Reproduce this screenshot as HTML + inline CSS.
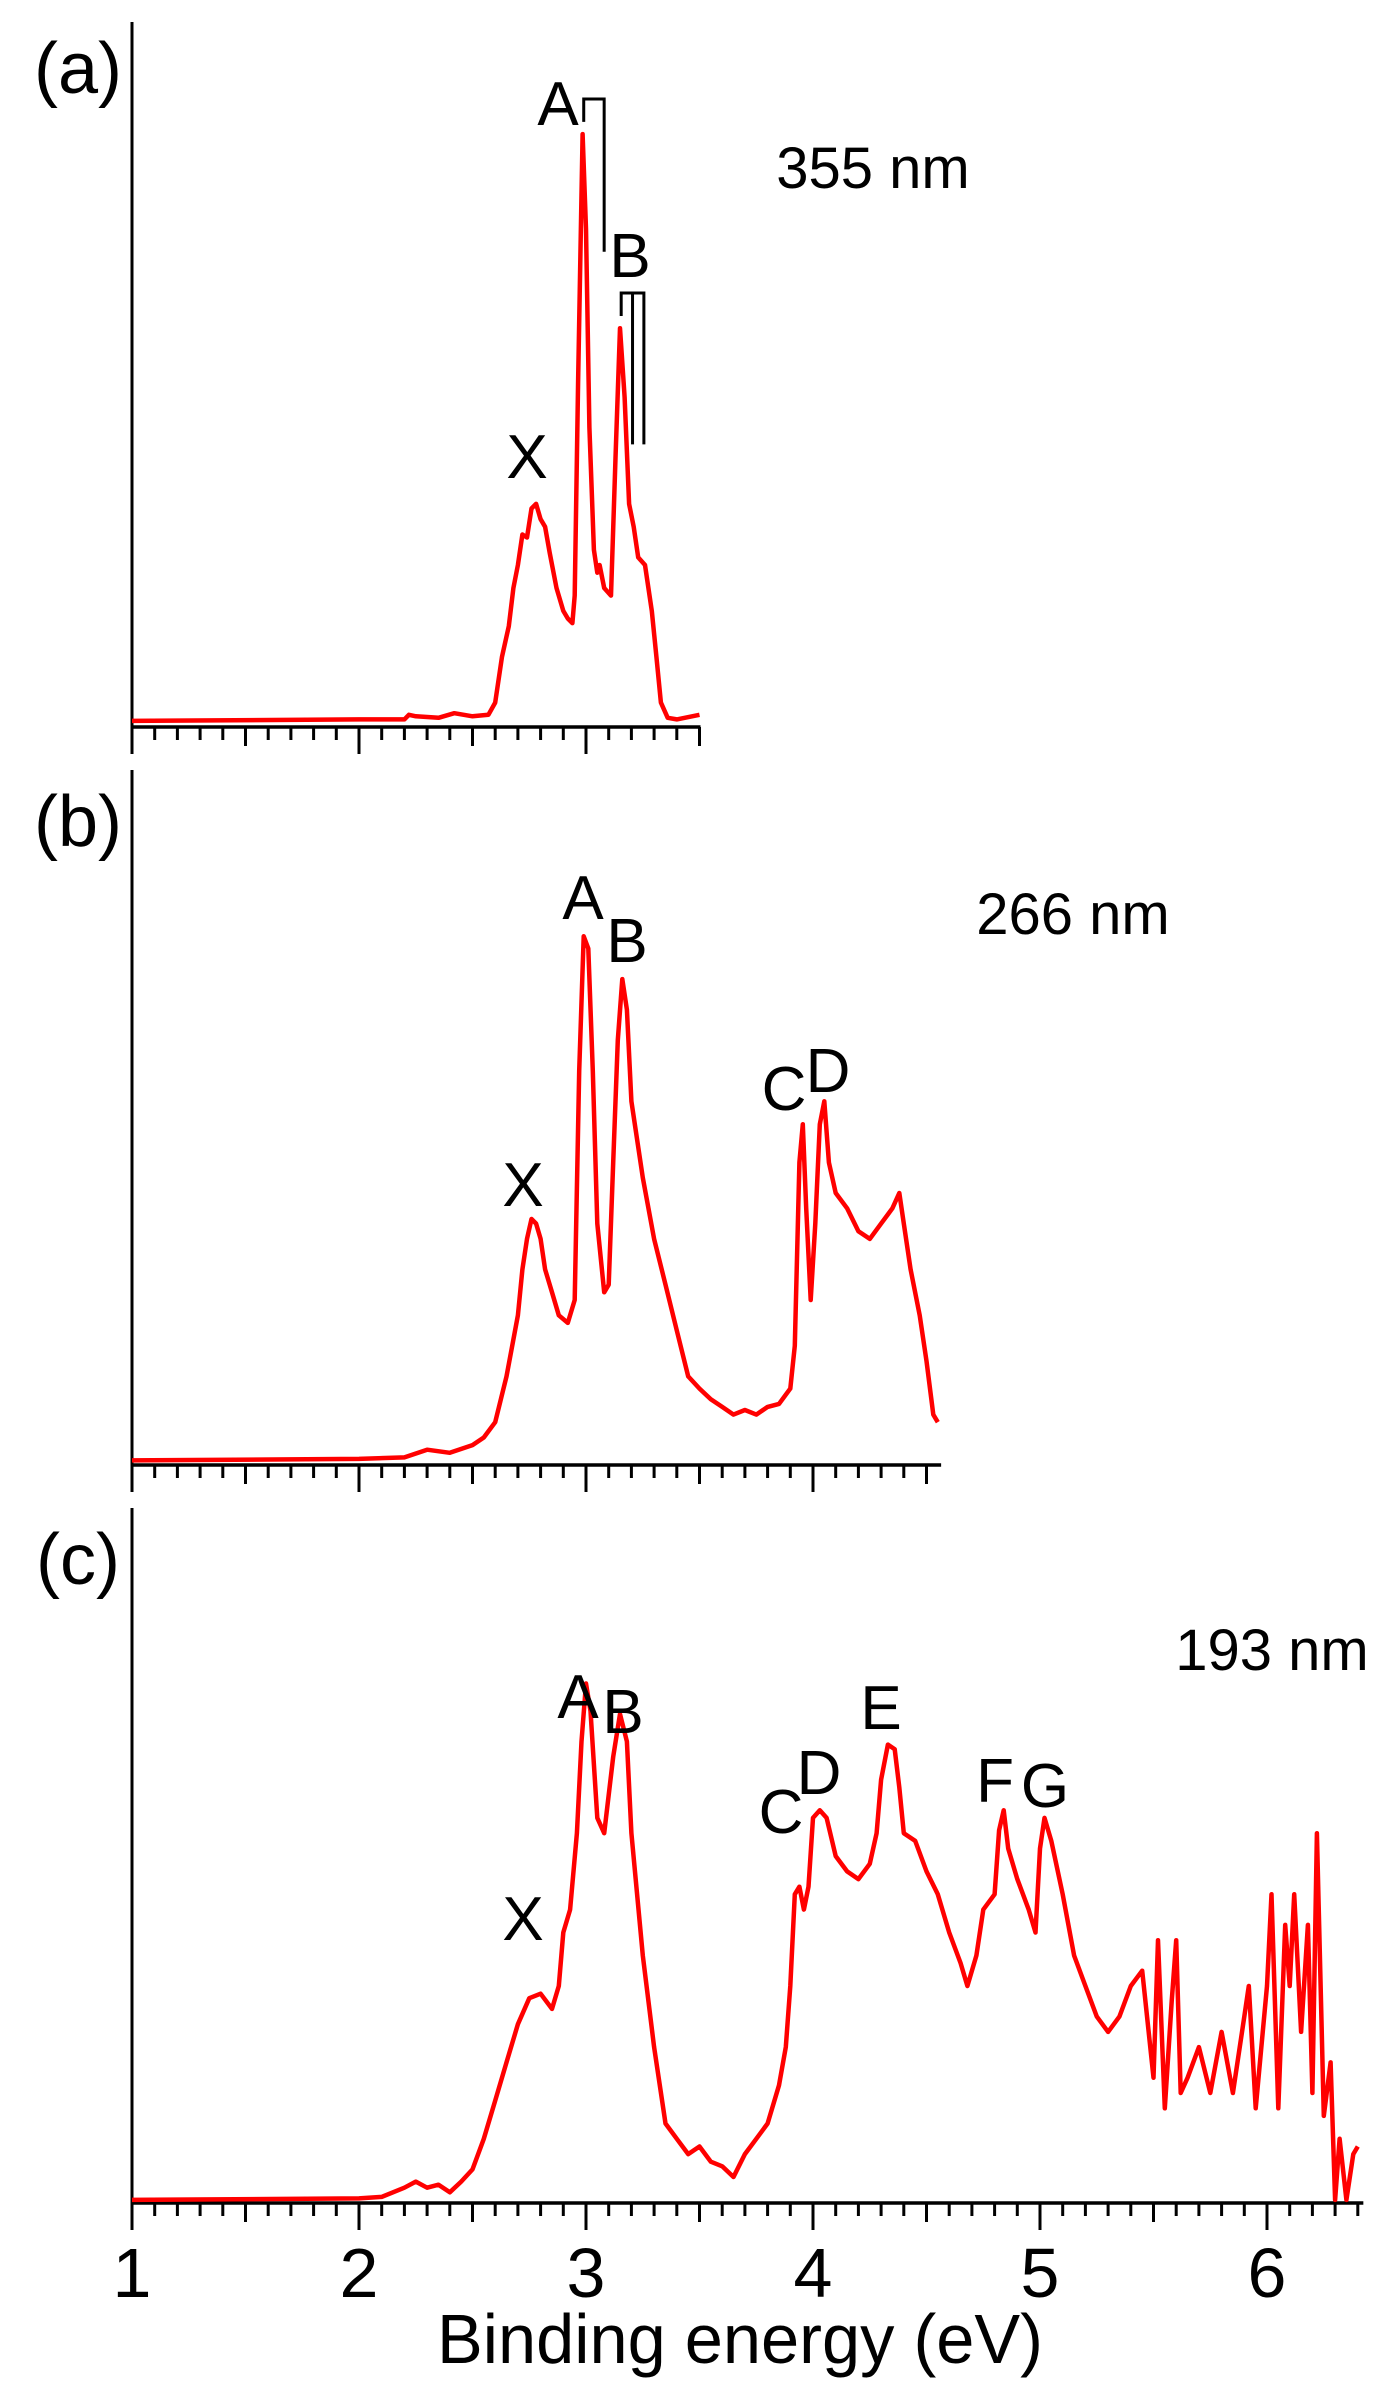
<!DOCTYPE html>
<html><head><meta charset="utf-8"><title>Photoelectron spectra</title>
<style>
html,body{margin:0;padding:0;background:#fff;}
svg{display:block;}
text{font-family:"Liberation Sans",sans-serif;fill:#000;}
</style></head>
<body>
<svg id="chart" width="1400" height="2390" viewBox="0 0 1400 2390" xmlns="http://www.w3.org/2000/svg"></svg>
<script>
// ---- data (energy in eV, intensity in arbitrary units) ----
const energyA = [1.0,2.0,2.2,2.22,2.25,2.35,2.42,2.5,2.57,2.6,2.63,2.66,2.68,2.7,2.72,2.74,2.76,2.78,2.8,2.82,2.84,2.87,2.9,2.92,2.94,2.95,2.965,2.985,3.0,3.015,3.035,3.05,3.06,3.08,3.11,3.13,3.15,3.17,3.19,3.21,3.23,3.26,3.29,3.31,3.33,3.36,3.4,3.5];
const intensityA = [4,5,5,8,7,6,9,7,8,16,46,66,91,106,126,124,143,146,136,131,114,91,76,71,68,86,226,388,326,196,116,101,106,91,86,176,261,216,146,131,111,106,76,46,16,6,5,8];
const energyB = [1.0,2.0,2.2,2.3,2.4,2.5,2.55,2.6,2.65,2.7,2.72,2.74,2.76,2.78,2.8,2.82,2.85,2.88,2.92,2.95,2.97,2.99,3.01,3.03,3.05,3.08,3.1,3.12,3.14,3.16,3.18,3.2,3.25,3.3,3.35,3.4,3.45,3.5,3.55,3.6,3.65,3.7,3.75,3.8,3.85,3.9,3.92,3.94,3.955,3.97,3.99,4.01,4.03,4.05,4.07,4.1,4.15,4.2,4.25,4.3,4.35,4.38,4.4,4.43,4.47,4.5,4.53,4.55];
const intensityB = [3,4,5,10,8,13,18,28,58,98,128,148,161,158,148,128,113,98,93,108,258,346,338,258,158,113,118,198,278,318,298,238,188,148,118,88,58,50,43,38,33,36,33,38,40,50,78,198,223,168,108,158,223,238,198,178,168,153,148,158,168,178,158,128,98,68,33,28];
const energyC = [1.0,2.0,2.1,2.2,2.25,2.3,2.35,2.4,2.45,2.5,2.55,2.6,2.65,2.7,2.75,2.8,2.85,2.88,2.9,2.93,2.96,2.98,3.0,3.02,3.05,3.08,3.12,3.15,3.18,3.2,3.25,3.3,3.35,3.4,3.45,3.5,3.55,3.6,3.65,3.7,3.75,3.8,3.85,3.88,3.9,3.92,3.94,3.96,3.98,4.0,4.03,4.06,4.1,4.15,4.2,4.25,4.28,4.3,4.33,4.36,4.38,4.4,4.45,4.5,4.55,4.6,4.65,4.68,4.72,4.75,4.8,4.82,4.84,4.86,4.9,4.95,4.98,5.0,5.02,5.05,5.1,5.15,5.2,5.25,5.3,5.35,5.4,5.45,5.5,5.52,5.55,5.58,5.6,5.62,5.65,5.7,5.75,5.8,5.85,5.9,5.92,5.95,6.0,6.02,6.05,6.08,6.1,6.12,6.15,6.18,6.2,6.22,6.25,6.28,6.3,6.32,6.35,6.38,6.4];
const intensityC = [2,3,4,10,14,10,12,7,14,22,42,67,92,117,134,137,127,142,177,192,242,302,340,322,252,242,292,320,302,242,162,102,52,42,32,37,27,24,17,32,42,52,77,102,142,202,207,192,207,252,257,252,227,217,212,222,242,277,300,297,272,242,237,217,202,177,157,142,162,192,202,244,257,232,212,192,177,232,252,237,202,162,142,122,112,122,142,152,82,172,62,132,172,72,82,102,72,112,72,122,142,62,142,202,62,182,142,202,112,182,72,242,57,92,2,42,2,32,37];
const tickValues = [1,2,3,4,5,6];
const tickLabels = ["1","2","3","4","5","6"];
const bracketAeV = [2.99, 3.08];
const bracketBeV = [3.155, 3.205, 3.255];
const bracketALevels = [396, 411, 311];   // left end, top, right end
const bracketBLevels = [269, 284, 185];

// ---- layout ----
const NS = "http://www.w3.org/2000/svg";
const svg = document.getElementById("chart");
const X0 = 132, PXEV = 227, KY = 1.528;
function xScale(e){ return X0 + (e-1)*PXEV; }
const panels = [
  {id:"a", top:22, base:727, xmax:3.5, e:energyA, v:intensityA, label:"(a)", lblY:93, nm:"355 nm", nmX:873, nmY:188},
  {id:"b", top:770, base:1465, xmax:4.56, e:energyB, v:intensityB, label:"(b)", lblY:846, nm:"266 nm", nmX:1073, nmY:934},
  {id:"c", top:1508, base:2203, xmax:6.42, e:energyC, v:intensityC, label:"(c)", lblY:1584, nm:"193 nm", nmX:1272, nmY:1670}
];
function mk(tag, attrs, parent){
  const el = document.createElementNS(NS, tag);
  for (const k in attrs) el.setAttribute(k, attrs[k]);
  (parent||svg).appendChild(el);
  return el;
}
function txt(s, x, y, size, parent, name){
  const t = mk("text", {x:x, y:y, "font-size":size, "text-anchor":"middle"}, parent);
  
  
  t.textContent = s;
  return t;
}
panels.forEach(p=>{
  const g = mk("g", {});
  
  
  const yScale = v => p.base - v*KY;
  const ya = mk("line", {x1:X0, y1:p.top, x2:X0, y2:p.base+27, stroke:"#000", "stroke-width":3}, g);
  
  
  const xa = mk("line", {x1:X0, y1:p.base, x2:xScale(p.xmax)+1, y2:p.base, stroke:"#000", "stroke-width":3.5}, g);
  
  
  const n = Math.floor((p.xmax-1)*10+1e-6);
  let d = "";
  for (let i=0;i<=n;i++){
    const e = 1 + i/10, x = xScale(e);
    const len = (i%10===0) ? 27 : (i%5===0 ? 19 : 13);
    d += "M"+x.toFixed(1)+" "+p.base+"V"+(p.base+len);
  }
  const tk = mk("path", {d:d, stroke:"#000", "stroke-width":3, fill:"none"}, g);
  
  
  const pts = p.e.map((e,i)=> xScale(e).toFixed(1)+","+yScale(p.v[i]).toFixed(1)).join(" ");
  const line = mk("polyline", {points:pts, fill:"none", stroke:"#ff0000", "stroke-width":4.5, "stroke-linejoin":"round"}, g);
  
  
  txt(p.label, 78, p.lblY, 72, g, 'panel-label-' + p.id);
  txt(p.nm, p.nmX, p.nmY, 58, g, 'wavelength-label-' + p.id);
  p.yScale = yScale; p.g = g;
});
const peakLabels = [
  [0,"X",527,478],[0,"A",558,125],[0,"B",630,277],
  [1,"X",523,1206],[1,"A",583,919],[1,"B",627,962],[1,"C",784,1110],[1,"D",828,1092],
  [2,"X",523,1940],[2,"A",578,1718],[2,"B",623,1733],[2,"C",781,1833],[2,"D",819,1794],[2,"E",881,1729],[2,"F",995,1802],[2,"G",1045,1807]
];
peakLabels.forEach(l=>{
  txt(l[1], l[2], l[3], 62, panels[l[0]].g, 'peak-label-' + l[1].toLowerCase() + '-' + panels[l[0]].id);
});
const ya = panels[0].yScale;
const ax0 = xScale(bracketAeV[0]), ax1 = xScale(bracketAeV[1]);
const brA = mk("path", {d:"M"+ax0+" "+ya(bracketALevels[0])+"V"+ya(bracketALevels[1])+"H"+ax1+"V"+ya(bracketALevels[2]), stroke:"#000","stroke-width":3,fill:"none"}, panels[0].g);


const bx = bracketBeV.map(xScale);
const brB = mk("path", {d:"M"+bx[0]+" "+ya(bracketBLevels[0])+"V"+ya(bracketBLevels[1])+"H"+bx[2]+"V"+ya(bracketBLevels[2])+"M"+bx[1]+" "+ya(bracketBLevels[1])+"V"+ya(bracketBLevels[2]), stroke:"#000","stroke-width":3,fill:"none"}, panels[0].g);


tickValues.forEach((v,i)=>{
  txt(tickLabels[i], xScale(v), 2297, 70, svg, 'x-tick-label-' + tickLabels[i]);
});
const xl = txt("Binding energy (eV)", 740, 2363, 70, svg, 'x-axis-title');
xl.setAttribute("textLength", 606);
xl.setAttribute("lengthAdjust", "spacingAndGlyphs");
</script>
</body></html>
